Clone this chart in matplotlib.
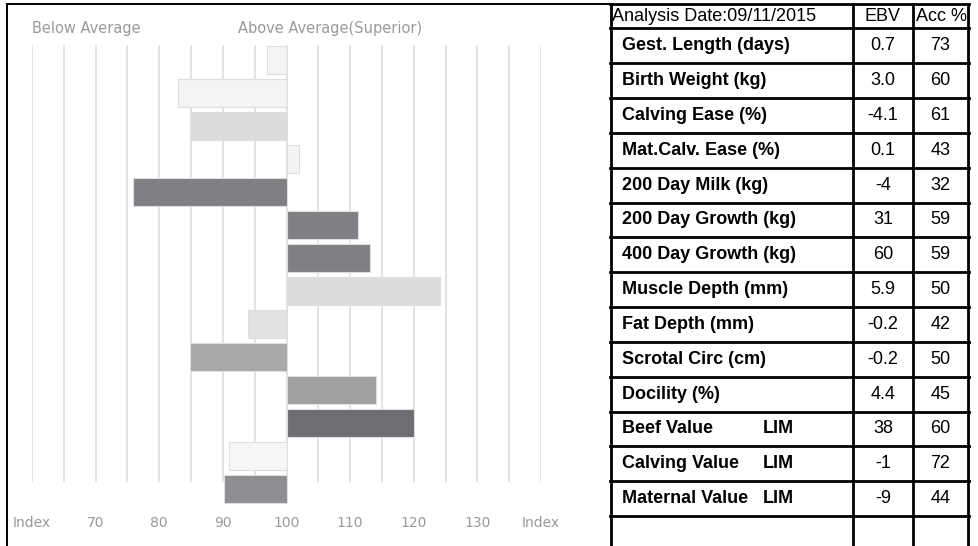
import numpy as np
import matplotlib
matplotlib.use("Agg")
import matplotlib.pyplot as plt

# traits shown in the chart / table (top to bottom)
traits = ["Gest. Length (days)", "Birth Weight (kg)", "Calving Ease (%)",
          "Mat.Calv. Ease (%)", "200 Day Milk (kg)", "200 Day Growth (kg)",
          "400 Day Growth (kg)", "Muscle Depth (mm)", "Fat Depth (mm)",
          "Scrotal Circ (cm)", "Docility (%)", "Beef Value", "Calving Value",
          "Maternal Value"]
breed = ["", "", "", "", "", "", "", "", "", "", "", "LIM", "LIM", "LIM"]
ebv = ["0.7", "3.0", "-4.1", "0.1", "-4", "31", "60", "5.9", "-0.2", "-0.2",
       "4.4", "38", "-1", "-9"]
acc = ["73", "60", "61", "43", "32", "59", "59", "50", "42", "50", "45",
       "60", "72", "44"]
# index values (100 = average)
index_vals = [96.9, 82.9, 84.9, 102.0, 75.8, 111.3, 113.1, 124.2, 94.0,
              84.9, 114.0, 120.1, 90.9, 90.1]
bar_colors = ["#f4f4f4", "#f4f4f4", "#dcdcde", "#f4f4f4", "#808084",
              "#808084", "#808084", "#dcdcde", "#e2e2e4", "#a9a9ac",
              "#a0a0a3", "#6e6e72", "#f6f6f6", "#8e8e92"]
tick_vals = [60, 70, 80, 90, 100, 110, 120, 130, 140]
tick_text = ["Index", "70", "80", "90", "100", "110", "120", "130", "Index"]
header = ["Analysis Date:09/11/2015", "EBV", "Acc %"]

W, H = 979, 546
fig = plt.figure(figsize=(W / 100, H / 100), dpi=100)
fig.patch.set_facecolor("white")

# ---- bar chart ----
x0, x1, ytop, ybot = 32, 541, 40, 510
ax = fig.add_axes([x0 / W, 1 - ybot / H, (x1 - x0) / W, (ybot - ytop) / H])
pitch = 33.0
ax.set_xlim(60, 140)
ax.set_ylim((ybot - 60) / pitch, (ytop - 60) / pitch)
for s in ax.spines.values():
    s.set_visible(False)
ax.set_facecolor("none")

y = np.arange(len(traits))
ax.vlines(np.arange(60, 141, 5), (45 - 60) / pitch, (482 - 60) / pitch,
          color="#e0e0e0", lw=1.3, zorder=1)
vals = np.array(index_vals)
ax.barh(y, vals - 100, left=100, height=0.86, color=bar_colors,
        edgecolor="#dedede", linewidth=0.8, zorder=2)

ax.set_yticks([])
ax.set_xticks(tick_vals)
ax.set_xticklabels(tick_text, fontsize=10, color="#999999",
                   family="DejaVu Sans")
ax.tick_params(axis="x", length=0, pad=4)

# ---- overlay in pixel coordinates: frame, headings, table ----
ov = fig.add_axes([0, 0, 1, 1])
ov.set_xlim(0, W)
ov.set_ylim(H, 0)
ov.axis("off")

ov.plot([7, 611], [4, 4], color="black", lw=1.4)
ov.plot([7, 7], [4, H], color="black", lw=1.4)

ov.text(32, 28, "Below Average", fontsize=10.5, color="#9a9a9a",
        family="DejaVu Sans", va="center", ha="left")
ov.text(238, 28, "Above Average(Superior)", fontsize=10.5, color="#9a9a9a",
        family="DejaVu Sans", va="center", ha="left")

col_x = [611, 853, 913, 968]
row_top = 28.3
row_h = 34.84
lw_t = 2.0
for cx in col_x:
    ov.plot([cx, cx], [3, H], color="black", lw=lw_t, solid_capstyle="butt")
ov.plot([col_x[0] - 1, col_x[-1] + 1], [4, 4], color="black", lw=lw_t)
for k in range(len(traits) + 1):
    yy = row_top + k * row_h
    ov.plot([col_x[0] - 1, col_x[-1] + 1], [yy, yy], color="black", lw=lw_t)

tfont = "Liberation Sans"
fs = 13
ov.text(612, 16.5, header[0], fontsize=fs, family=tfont, va="center")
ov.text((col_x[1] + col_x[2]) / 2, 16.5, header[1], fontsize=fs,
        family=tfont, va="center", ha="center")
ov.text((col_x[2] + col_x[3]) / 2 + 1, 16.5, header[2], fontsize=fs,
        family=tfont, va="center", ha="center")

for i in range(len(traits)):
    yc = row_top + (i + 0.5) * row_h
    ov.text(622, yc, traits[i], fontsize=fs, family=tfont, weight="bold",
            va="center")
    if breed[i]:
        ov.text(763, yc, breed[i], fontsize=fs, family=tfont, weight="bold",
                va="center")
    ov.text((col_x[1] + col_x[2]) / 2, yc, ebv[i], fontsize=fs,
            family=tfont, va="center", ha="center")
    ov.text((col_x[2] + col_x[3]) / 2, yc, acc[i], fontsize=fs,
            family=tfont, va="center", ha="center")

fig.savefig("out.png", dpi=100)
